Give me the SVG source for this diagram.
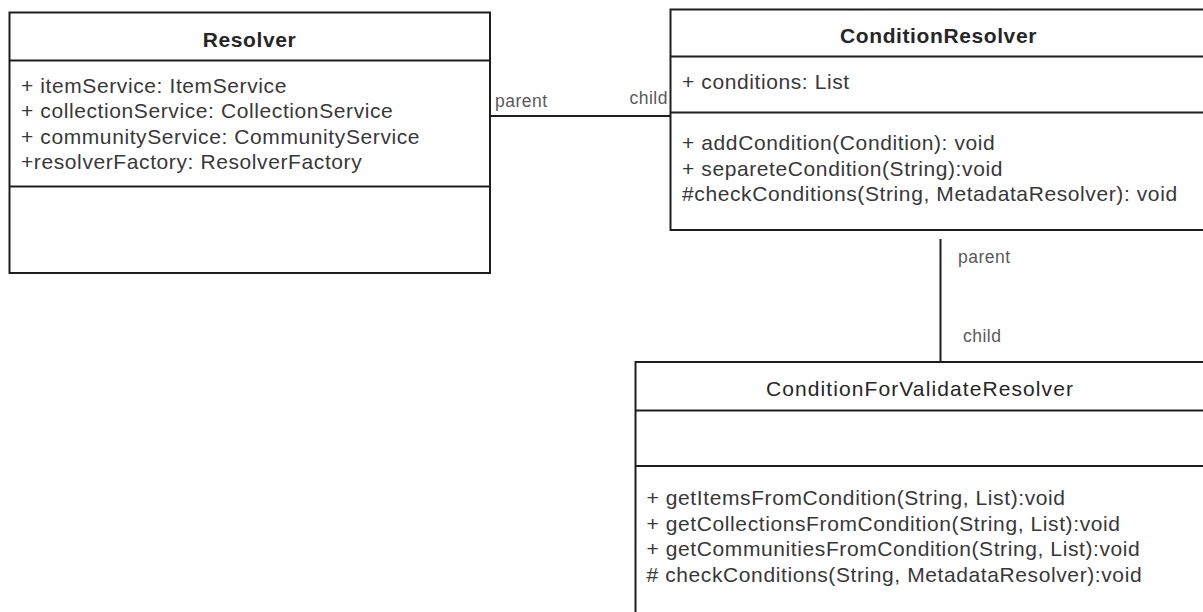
<svg xmlns="http://www.w3.org/2000/svg" width="1203" height="612" viewBox="0 0 1203 612">
  <style>
    .box { fill: #ffffff; stroke: #1e1e1e; stroke-width: 2; }
    .sep { stroke: #1e1e1e; stroke-width: 2; }
    .title { font-family: "Liberation Sans", Arial, sans-serif; font-size: 21px; font-weight: bold; fill: #262626; text-anchor: middle; letter-spacing: 0.6px; }
    .title.plain { font-weight: normal; letter-spacing: 1.1px; }
    .member { font-family: "Liberation Sans", Arial, sans-serif; font-size: 21px; fill: #383838; letter-spacing: 0.6px; }
    .edge { stroke: #1e1e1e; stroke-width: 2; fill: none; }
    .role { font-family: "Liberation Sans", Arial, sans-serif; font-size: 17.5px; fill: #5a5a5a; letter-spacing: 0.5px; }
  </style>

  <rect width="1203" height="612" fill="#ffffff"/>

  <!-- associations -->
  <g id="connectors">
    <line class="edge" x1="490" y1="116" x2="670.5" y2="116"/>
    <text class="role" x="495" y="106.5">parent</text>
    <text class="role" x="668" y="103.5" text-anchor="end">child</text>

    <line class="edge" x1="940.5" y1="239" x2="940.5" y2="362"/>
    <text class="role" x="958" y="263">parent</text>
    <text class="role" x="963" y="342">child</text>
  </g>

  <!-- class Resolver -->
  <g id="resolver">
    <rect class="box" x="9.5" y="12.5" width="480.5" height="260.5"/>
    <line class="sep" x1="9.5" y1="60.5" x2="490" y2="60.5"/>
    <line class="sep" x1="9.5" y1="186.5" x2="490" y2="186.5"/>
    <text class="title" x="249.5" y="46.5">Resolver</text>
    <text class="member" x="21" y="92.5">+ itemService: ItemService</text>
    <text class="member" x="21" y="118">+ collectionService: CollectionService</text>
    <text class="member" x="21" y="143.5">+ communityService: CommunityService</text>
    <text class="member" x="21" y="169">+resolverFactory: ResolverFactory</text>
  </g>

  <!-- class ConditionResolver -->
  <g id="condition-resolver">
    <rect class="box" x="670.5" y="9.5" width="540" height="220.5"/>
    <line class="sep" x1="670.5" y1="56.5" x2="1210" y2="56.5"/>
    <line class="sep" x1="670.5" y1="112.5" x2="1210" y2="112.5"/>
    <text class="title" x="938.5" y="42.5">ConditionResolver</text>
    <text class="member" x="682" y="89">+ conditions: List</text>
    <text class="member" x="682" y="150">+ addCondition(Condition): void</text>
    <text class="member" x="682" y="175.5">+ separeteCondition(String):void</text>
    <text class="member" x="682" y="201">#checkConditions(String, MetadataResolver): void</text>
  </g>

  <!-- class ConditionForValidateResolver -->
  <g id="condition-for-validate-resolver">
    <rect class="box" x="635.5" y="362" width="580" height="300"/>
    <line class="sep" x1="635.5" y1="410.5" x2="1215" y2="410.5"/>
    <line class="sep" x1="635.5" y1="466" x2="1215" y2="466"/>
    <text class="title plain" x="920" y="396">ConditionForValidateResolver</text>
    <text class="member" x="646.5" y="505">+ getItemsFromCondition(String, List):void</text>
    <text class="member" x="646.5" y="530.5">+ getCollectionsFromCondition(String, List):void</text>
    <text class="member" x="646.5" y="556">+ getCommunitiesFromCondition(String, List):void</text>
    <text class="member" x="646.5" y="581.5"># checkConditions(String, MetadataResolver):void</text>
  </g>
</svg>
